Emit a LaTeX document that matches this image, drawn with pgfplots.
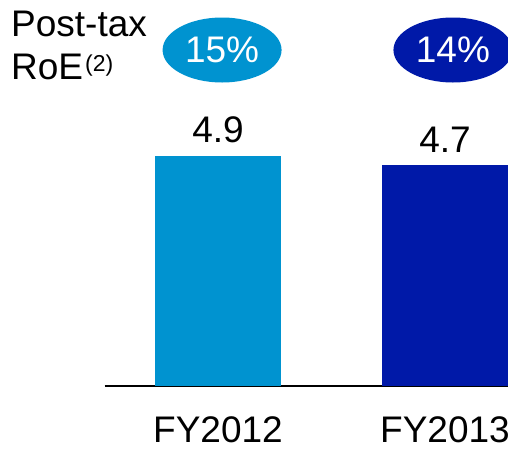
\documentclass[border=0pt]{standalone}
\usepackage{pgfplots}
\pgfplotsset{compat=1.18}
\usepackage{fontspec}
\setmainfont{Liberation Sans}
\usetikzlibrary{shapes.geometric}
\definecolor{lightb}{RGB}{0,147,208}
\definecolor{darkb}{RGB}{0,25,168}
\newcommand{\bigf}{\fontsize{37}{42}\selectfont}
\begin{document}
\begin{tikzpicture}[x=1pt,y=1pt]
\useasboundingbox (0,0) rectangle (508,449);
\clip (0,0) rectangle (508,449);
\node[anchor=base west, inner sep=0, font=\bigf] at (11,412) {Post-tax};
\node[anchor=base west, inner sep=0, font=\bigf] at (11,369) {RoE\kern2pt\raisebox{8pt}{\fontsize{23}{25}\selectfont(2)}};
\begin{axis}[
  at={(104.5pt,63pt)}, anchor=south west,
  scale only axis, width=454pt, height=234.7pt,
  xmin=-0.5, xmax=1.5, ymin=0, ymax=5,
  axis x line*=bottom, axis y line=none,
  x axis line style={-, line width=1.5pt, black},
  xtick={0,1}, xticklabels={FY2012,FY2013},
  major tick length=0pt,
  xticklabel style={font=\bigf, anchor=base, yshift=-57pt, inner sep=0pt},
  ytick=\empty,
  clip=false,
]
\addplot[ybar, bar width=126pt, bar shift=0pt, fill=lightb, draw=none,
  nodes near coords, nodes near coords style={font=\bigf, black, anchor=base, yshift=13pt, inner sep=0pt},
  point meta=explicit symbolic] coordinates {(0,4.9) [4.9]};
\addplot[ybar, bar width=126pt, bar shift=0pt, fill=darkb, draw=none,
  nodes near coords, nodes near coords style={font=\bigf, black, anchor=base, yshift=13pt, inner sep=0pt},
  point meta=explicit symbolic] coordinates {(1,4.7) [4.7]};
% Post-tax RoE ellipses
\addplot[draw=none, mark=none, nodes near coords, point meta=explicit symbolic,
  nodes near coords style={ellipse, fill=lightb, text=white, font=\bigf, minimum width=119pt, minimum height=65pt, inner sep=0pt, anchor=center}]
  coordinates {(0.018,7.158) [15\%]};
\addplot[draw=none, mark=none, nodes near coords, point meta=explicit symbolic,
  nodes near coords style={ellipse, fill=darkb, text=white, font=\bigf, minimum width=119pt, minimum height=65pt, inner sep=0pt, anchor=center}]
  coordinates {(1.035,7.158) [14\%]};
\end{axis}
\end{tikzpicture}
\end{document}
